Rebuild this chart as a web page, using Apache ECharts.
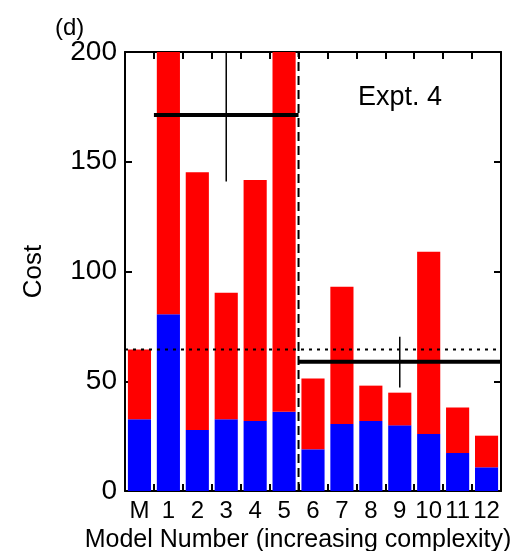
<!DOCTYPE html>
<html>
<head>
<meta charset="utf-8">
<script src="https://cdn.jsdelivr.net/npm/echarts@6/dist/echarts.min.js"></script>
<style>html,body{margin:0;padding:0;background:#fff}#c{width:527px;height:551px}</style>
</head>
<body>
<div id="c"></div>
<script>
// ---- data ----
const categories = ['M','1','2','3','4','5','6','7','8','9','10','11','12'];
const blueVals = [32.7, 80.5, 27.8, 32.7, 31.9, 36.1, 19.0, 30.5, 31.9, 29.9, 26.0, 17.3, 10.8];
const redVals  = [31.8, 150, 117.4, 57.6, 109.8, 170, 32.3, 62.5, 16.1, 14.9, 83.0, 20.7, 14.4];
const yTicks = [0, 50, 100, 150, 200];
const groupMeans = [171.3, 58.9];
const groupStart = [0.5, 5.5];
const groupEnd = [5.5, 12.5];
const errX = [3, 9];
const errLow = [141, 47.2];
const errHigh = [202, 70.3];
const dottedLevel = 64.5;
const dividerX = 5.5;

const FONT = 'Liberation Sans';
const chart = echarts.init(document.getElementById('c'));

const series = [
  {type:'bar', name:'blue', stack:'s', data: blueVals, itemStyle:{color:'#0000ff'}, barCategoryGap:'20%', xAxisIndex:0, yAxisIndex:0, z:2},
  {type:'bar', name:'red', stack:'s', data: redVals, itemStyle:{color:'#ff0000'}, barCategoryGap:'20%', xAxisIndex:0, yAxisIndex:0, z:2},
  {type:'line', xAxisIndex:2, yAxisIndex:0, symbol:'none', z:5,
   data:[[-0.5, dottedLevel],[12.5, dottedLevel]],
   lineStyle:{color:'#000', width:2, type:[3,5]}},
  {type:'line', xAxisIndex:2, yAxisIndex:0, symbol:'none', z:5,
   data:[[dividerX, 0],[dividerX, 200]],
   lineStyle:{color:'#000', width:2, type:[9,5]}}
];
groupMeans.forEach((m,i)=>{
  series.push({type:'line', xAxisIndex:2, yAxisIndex:0, symbol:'none', z:6,
    data:[[groupStart[i], m],[groupEnd[i], m]], lineStyle:{color:'#000', width:4}});
});
errX.forEach((x,i)=>{
  series.push({type:'line', xAxisIndex:2, yAxisIndex:0, symbol:'none', z:6,
    data:[[x, errLow[i]],[x, errHigh[i]]], lineStyle:{color:'#000', width:1.5}});
});

const tickStyle = {show:true, inside:true, length:7, lineStyle:{color:'#000', width:2}};

chart.setOption({
  animation:false,
  backgroundColor:'#fff',
  title:{text:'(d)', left:50, top:11, textStyle:{fontFamily:FONT, fontSize:24, fontWeight:'normal', color:'#000'}},
  graphic:[{type:'text', left:358, top:84, z:10, style:{text:'Expt. 4', fontFamily:FONT, fontSize:27, fill:'#000'}}],
  grid:{left:125, right:26, top:52, bottom:60, outerBoundsMode:'none', containLabel:false},
  xAxis:[
    {type:'category', data:categories, position:'bottom',
     axisLine:{onZero:false, lineStyle:{color:'#000', width:2}},
     axisTick:tickStyle,
     axisLabel:{color:'#000', fontFamily:FONT, fontSize:24, margin:8, interval:0},
     name:'Model Number (increasing complexity)', nameLocation:'middle', nameGap:36,
     nameTextStyle:{color:'#000', fontFamily:FONT, fontSize:25, padding:[0,30,0,0]}},
    {type:'category', data:categories, position:'top',
     axisLine:{onZero:false, lineStyle:{color:'#000', width:2}},
     axisTick:tickStyle, axisLabel:{show:false}},
    {type:'value', min:-0.5, max:12.5, show:false}
  ],
  yAxis:[
    {type:'value', min:0, max:200, interval:50, position:'left',
     axisLine:{show:true, onZero:false, lineStyle:{color:'#000', width:2}},
     axisTick:tickStyle,
     splitLine:{show:false},
     axisLabel:{color:'#000', fontFamily:FONT, fontSize:28, margin:8,
       formatter: v => yTicks.includes(v) ? String(v) : ''},
     name:'Cost', nameLocation:'middle', nameGap:78,
     nameTextStyle:{color:'#000', fontFamily:FONT, fontSize:26}},
    {type:'value', min:0, max:200, interval:50, position:'right',
     axisLine:{show:true, onZero:false, lineStyle:{color:'#000', width:2}},
     axisTick:tickStyle,
     splitLine:{show:false}, axisLabel:{show:false}}
  ],
  series: series
});
</script>
</body>
</html>
